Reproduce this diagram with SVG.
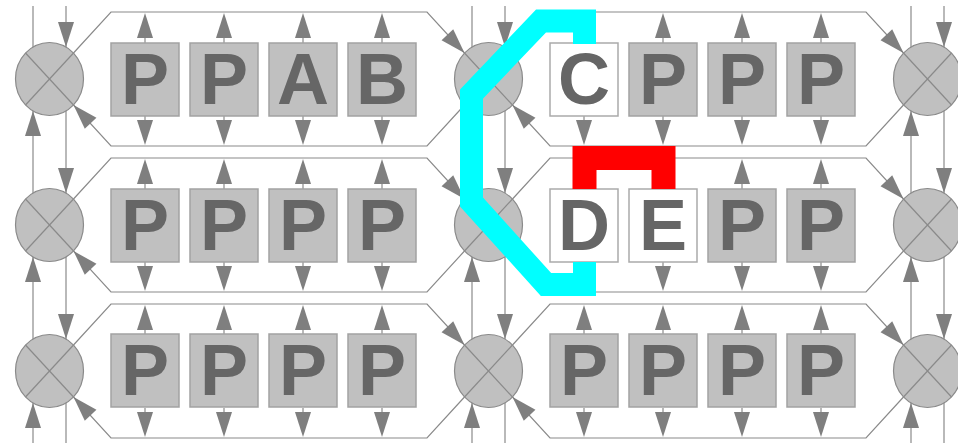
<svg xmlns="http://www.w3.org/2000/svg" xmlns:xlink="http://www.w3.org/1999/xlink" width="958" height="443" viewBox="0 0 958 443">
  <style>
    .wire { fill: none; stroke: #8a8a8a; stroke-width: 1.2; }
    .head { fill: #7f7f7f; stroke: none; }
    .mix-body { fill: #c0c0c0; stroke: #8a8a8a; stroke-width: 1.2; }
    .pe { fill: #c0c0c0; stroke: #a2a2a2; stroke-width: 1.5; }
    .pe-free { fill: #ffffff; stroke: #aaaaaa; stroke-width: 1.5; }
    .lbl { font-family: "Liberation Sans", Arial, sans-serif; font-weight: bold; font-size: 72px; fill: #666666; text-anchor: middle; }
    .route-cyan { fill: none; stroke: #00ffff; stroke-width: 23; stroke-linejoin: miter; stroke-linecap: butt; }
    .route-red { fill: none; stroke: #ff0000; stroke-width: 24; stroke-linejoin: miter; stroke-linecap: butt; }
  </style>
  <defs>
    <!-- arrowhead, tip at origin, pointing along +y -->
    <path id="ah" class="head" d="M0,0 L-8,-25 L8,-25 Z"/>
    <!-- switch: ellipse with a cross -->
    <g id="mix">
      <ellipse class="mix-body" cx="0" cy="0" rx="34" ry="36.5"/>
      <line class="wire" x1="-24" y1="-26" x2="24" y2="26"/>
      <line class="wire" x1="24" y1="-26" x2="-24" y2="26"/>
    </g>
    <!-- bidirectional link from a tile up to the upper bus and down to the lower bus -->
    <g id="io">
      <line class="wire" x1="0" y1="-36" x2="0" y2="-60"/>
      <use xlink:href="#ah" transform="translate(0,-66) rotate(180)"/>
      <line class="wire" x1="0" y1="37" x2="0" y2="60"/>
      <use xlink:href="#ah" transform="translate(0,66)"/>
    </g>
  </defs>

  <g id="connectors">
    <!-- vertical lines through each switch column -->
    <line class="wire" x1="33" y1="6" x2="33" y2="443"/>
    <line class="wire" x1="66" y1="6" x2="66" y2="443"/>
    <line class="wire" x1="472" y1="6" x2="472" y2="443"/>
    <line class="wire" x1="505" y1="6" x2="505" y2="443"/>
    <line class="wire" x1="911" y1="6" x2="911" y2="443"/>
    <line class="wire" x1="944" y1="6" x2="944" y2="443"/>

    <!-- ring buses, row 1 -->
    <path class="wire" d="M73.5,53 L111,12 L427,12 L464.5,53"/>
    <path class="wire" d="M464.5,105 L427,146 L111,146 L73.5,105"/>
    <path class="wire" d="M512.5,53 L550,12 L866,12 L903.5,53"/>
    <path class="wire" d="M903.5,105 L866,146 L550,146 L512.5,105"/>
    <!-- ring buses, row 2 -->
    <path class="wire" d="M73.5,199 L111,158 L427,158 L464.5,199"/>
    <path class="wire" d="M464.5,251 L427,292 L111,292 L73.5,251"/>
    <path class="wire" d="M512.5,199 L550,158 L866,158 L903.5,199"/>
    <path class="wire" d="M903.5,251 L866,292 L550,292 L512.5,251"/>
    <!-- ring buses, row 3 -->
    <path class="wire" d="M73.5,345 L111,304 L427,304 L464.5,345"/>
    <path class="wire" d="M464.5,397 L427,438 L111,438 L73.5,397"/>
    <path class="wire" d="M512.5,345 L550,304 L866,304 L903.5,345"/>
    <path class="wire" d="M903.5,397 L866,438 L550,438 L512.5,397"/>
  </g>

  <!-- switches -->
  <g id="sw-0-0"><use xlink:href="#mix" x="49.5" y="79"/></g>
  <g id="sw-0-1"><use xlink:href="#mix" x="488.5" y="79"/></g>
  <g id="sw-0-2"><use xlink:href="#mix" x="927.5" y="79"/></g>
  <g id="sw-1-0"><use xlink:href="#mix" x="49.5" y="225"/></g>
  <g id="sw-1-1"><use xlink:href="#mix" x="488.5" y="225"/></g>
  <g id="sw-1-2"><use xlink:href="#mix" x="927.5" y="225"/></g>
  <g id="sw-2-0"><use xlink:href="#mix" x="49.5" y="371"/></g>
  <g id="sw-2-1"><use xlink:href="#mix" x="488.5" y="371"/></g>
  <g id="sw-2-2"><use xlink:href="#mix" x="927.5" y="371"/></g>

  <g id="arrowheads">
    <!-- column inputs (down) and outputs (up) -->
    <use xlink:href="#ah" transform="translate(66,47)"/>
    <use xlink:href="#ah" transform="translate(66,193)"/>
    <use xlink:href="#ah" transform="translate(66,339)"/>
    <use xlink:href="#ah" transform="translate(33,111) rotate(180)"/>
    <use xlink:href="#ah" transform="translate(33,257) rotate(180)"/>
    <use xlink:href="#ah" transform="translate(33,403) rotate(180)"/>
    <use xlink:href="#ah" transform="translate(505,47)"/>
    <use xlink:href="#ah" transform="translate(505,193)"/>
    <use xlink:href="#ah" transform="translate(505,339)"/>
    <use xlink:href="#ah" transform="translate(472,111) rotate(180)"/>
    <use xlink:href="#ah" transform="translate(472,257) rotate(180)"/>
    <use xlink:href="#ah" transform="translate(472,403) rotate(180)"/>
    <use xlink:href="#ah" transform="translate(944,47)"/>
    <use xlink:href="#ah" transform="translate(944,193)"/>
    <use xlink:href="#ah" transform="translate(944,339)"/>
    <use xlink:href="#ah" transform="translate(911,111) rotate(180)"/>
    <use xlink:href="#ah" transform="translate(911,257) rotate(180)"/>
    <use xlink:href="#ah" transform="translate(911,403) rotate(180)"/>
    <!-- ring bus ends entering switches -->
    <use xlink:href="#ah" transform="translate(464.5,53) rotate(-43.2)"/>
    <use xlink:href="#ah" transform="translate(903.5,53) rotate(-43.2)"/>
    <use xlink:href="#ah" transform="translate(73.5,105) rotate(136.8)"/>
    <use xlink:href="#ah" transform="translate(512.5,105) rotate(136.8)"/>
    <use xlink:href="#ah" transform="translate(464.5,199) rotate(-43.2)"/>
    <use xlink:href="#ah" transform="translate(903.5,199) rotate(-43.2)"/>
    <use xlink:href="#ah" transform="translate(73.5,251) rotate(136.8)"/>
    <use xlink:href="#ah" transform="translate(512.5,251) rotate(136.8)"/>
    <use xlink:href="#ah" transform="translate(464.5,345) rotate(-43.2)"/>
    <use xlink:href="#ah" transform="translate(903.5,345) rotate(-43.2)"/>
    <use xlink:href="#ah" transform="translate(73.5,397) rotate(136.8)"/>
    <use xlink:href="#ah" transform="translate(512.5,397) rotate(136.8)"/>
  </g>

  <g id="tile-links">
    <use xlink:href="#io" x="145" y="79"/><use xlink:href="#io" x="224" y="79"/>
    <use xlink:href="#io" x="303" y="79"/><use xlink:href="#io" x="382" y="79"/>
    <use xlink:href="#io" x="584" y="79"/><use xlink:href="#io" x="663" y="79"/>
    <use xlink:href="#io" x="742" y="79"/><use xlink:href="#io" x="821" y="79"/>
    <use xlink:href="#io" x="145" y="225"/><use xlink:href="#io" x="224" y="225"/>
    <use xlink:href="#io" x="303" y="225"/><use xlink:href="#io" x="382" y="225"/>
    <use xlink:href="#io" x="584" y="225"/><use xlink:href="#io" x="663" y="225"/>
    <use xlink:href="#io" x="742" y="225"/><use xlink:href="#io" x="821" y="225"/>
    <use xlink:href="#io" x="145" y="371"/><use xlink:href="#io" x="224" y="371"/>
    <use xlink:href="#io" x="303" y="371"/><use xlink:href="#io" x="382" y="371"/>
    <use xlink:href="#io" x="584" y="371"/><use xlink:href="#io" x="663" y="371"/>
    <use xlink:href="#io" x="742" y="371"/><use xlink:href="#io" x="821" y="371"/>
  </g>

  <!-- row 1 tiles -->
  <g id="t-0-0"><rect class="pe" x="111" y="43" width="68" height="73"/><text class="lbl" x="145" y="104">P</text></g>
  <g id="t-0-1"><rect class="pe" x="190" y="43" width="68" height="73"/><text class="lbl" x="224" y="104">P</text></g>
  <g id="t-0-2"><rect class="pe" x="269" y="43" width="68" height="73"/><text class="lbl" x="303" y="104">A</text></g>
  <g id="t-0-3"><rect class="pe" x="348" y="43" width="68" height="73"/><text class="lbl" x="382" y="104">B</text></g>
  <g id="t-0-4"><rect class="pe-free" x="550" y="43" width="68" height="73"/><text class="lbl" x="584" y="104">C</text></g>
  <g id="t-0-5"><rect class="pe" x="629" y="43" width="68" height="73"/><text class="lbl" x="663" y="104">P</text></g>
  <g id="t-0-6"><rect class="pe" x="708" y="43" width="68" height="73"/><text class="lbl" x="742" y="104">P</text></g>
  <g id="t-0-7"><rect class="pe" x="787" y="43" width="68" height="73"/><text class="lbl" x="821" y="104">P</text></g>

  <!-- row 2 tiles -->
  <g id="t-1-0"><rect class="pe" x="111" y="189" width="68" height="73"/><text class="lbl" x="145" y="250">P</text></g>
  <g id="t-1-1"><rect class="pe" x="190" y="189" width="68" height="73"/><text class="lbl" x="224" y="250">P</text></g>
  <g id="t-1-2"><rect class="pe" x="269" y="189" width="68" height="73"/><text class="lbl" x="303" y="250">P</text></g>
  <g id="t-1-3"><rect class="pe" x="348" y="189" width="68" height="73"/><text class="lbl" x="382" y="250">P</text></g>
  <g id="t-1-4"><rect class="pe-free" x="550" y="189" width="68" height="73"/><text class="lbl" x="584" y="250">D</text></g>
  <g id="t-1-5"><rect class="pe-free" x="629" y="189" width="68" height="73"/><text class="lbl" x="663" y="250">E</text></g>
  <g id="t-1-6"><rect class="pe" x="708" y="189" width="68" height="73"/><text class="lbl" x="742" y="250">P</text></g>
  <g id="t-1-7"><rect class="pe" x="787" y="189" width="68" height="73"/><text class="lbl" x="821" y="250">P</text></g>

  <!-- row 3 tiles -->
  <g id="t-2-0"><rect class="pe" x="111" y="334" width="68" height="73"/><text class="lbl" x="145" y="395">P</text></g>
  <g id="t-2-1"><rect class="pe" x="190" y="334" width="68" height="73"/><text class="lbl" x="224" y="395">P</text></g>
  <g id="t-2-2"><rect class="pe" x="269" y="334" width="68" height="73"/><text class="lbl" x="303" y="395">P</text></g>
  <g id="t-2-3"><rect class="pe" x="348" y="334" width="68" height="73"/><text class="lbl" x="382" y="395">P</text></g>
  <g id="t-2-4"><rect class="pe" x="550" y="334" width="68" height="73"/><text class="lbl" x="584" y="395">P</text></g>
  <g id="t-2-5"><rect class="pe" x="629" y="334" width="68" height="73"/><text class="lbl" x="663" y="395">P</text></g>
  <g id="t-2-6"><rect class="pe" x="708" y="334" width="68" height="73"/><text class="lbl" x="742" y="395">P</text></g>
  <g id="t-2-7"><rect class="pe" x="787" y="334" width="68" height="73"/><text class="lbl" x="821" y="395">P</text></g>

  <!-- highlighted routes -->
  <g id="routes">
    <path class="route-cyan" d="M584.5,44 L584.5,21 L541,21 L471.5,94 L471.5,202 L546,284.5 L584.5,284.5 L584.5,262"/>
    <path class="route-red" d="M584.5,189 L584.5,158 L663.5,158 L663.5,189"/>
  </g>
</svg>
